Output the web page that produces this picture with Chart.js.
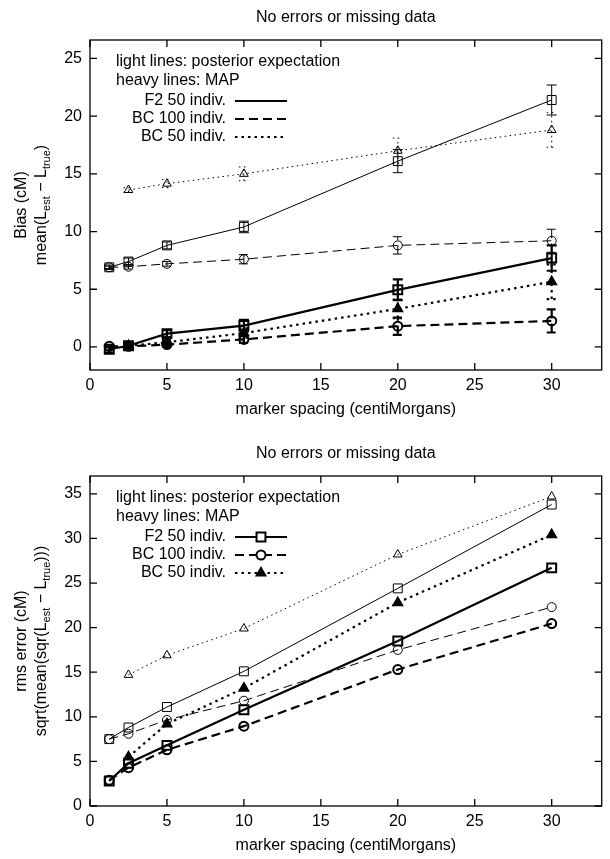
<!DOCTYPE html>
<html>
<head>
<meta charset="utf-8">
<script src="https://cdn.jsdelivr.net/npm/chart.js@4"></script>
<style>
body { margin: 0; background: #fff; }
canvas { display: block; }
</style>
</head>
<body>
<canvas id="biasChart" width="610" height="436"></canvas>
<canvas id="rmsChart" width="610" height="423"></canvas>
<script>
// marker spacing in cM
const spacing = [1.25, 2.5, 5, 10, 20, 30];
const spacingBC50 = [2.5, 5, 10, 20, 30];
const xTicks = [0, 5, 10, 15, 20, 25, 30];

// bias, posterior expectation (light lines) + std errors
const biasF2Mean = [6.9, 7.4, 8.8, 10.4, 16.1, 21.4];
const biasF2MeanErr = [0.2, 0.3, 0.3, 0.5, 1.0, 1.3];
const biasBC100Mean = [6.9, 6.95, 7.2, 7.6, 8.8, 9.2];
const biasBC100MeanErr = [0.1, 0.2, 0.2, 0.4, 0.75, 1.0];
const biasBC50Mean = [13.6, 14.15, 15.0, 17.0, 18.8];
const biasBC50MeanErr = [0.2, 0.35, 0.6, 1.1, 1.5];

// bias, MAP (heavy lines)
const biasF2Map = [-0.2, 0.1, 1.15, 1.85, 4.95, 7.7];
const biasF2MapErr = [0.3, 0.2, 0.3, 0.5, 0.9, 1.1];
const biasBC100Map = [0.05, 0.05, 0.2, 0.65, 1.8, 2.25];
const biasBC100MapErr = [0.1, 0.1, 0.2, 0.3, 0.75, 1.0];
const biasBC50Map = [0.1, 0.4, 1.2, 3.3, 5.65];
const biasBC50MapErr = [0.1, 0.2, 0.4, 0.8, 1.5];
const biasTicks = [0, 5, 10, 15, 20, 25];

// rms error
const rmsF2Mean = [7.5, 8.8, 11.1, 15.1, 24.4, 33.8];
const rmsBC100Mean = [7.5, 8.1, 9.65, 11.8, 17.5, 22.3];
const rmsBC50Mean = [14.7, 16.9, 19.9, 28.2, 34.7];
const rmsF2Map = [2.8, 4.8, 6.8, 10.8, 18.5, 26.7];
const rmsBC100Map = [2.9, 4.3, 6.3, 8.95, 15.3, 20.45];
const rmsBC50Map = [5.5, 9.2, 13.2, 22.8, 30.4];
const rmsTicks = [0, 5, 10, 15, 20, 25, 30, 35];

const legendLabels = ['F2 50 indiv.', 'BC 100 indiv.', 'BC 50 indiv.'];

const FONT = '"Liberation Sans", Arial, sans-serif';

// line / point look of each cross
const kinds = {
    F2: { point: 'rect', radius: 6.3, dashLight: [], dashHeavy: [] },
    BC100: { point: 'circle', radius: 4.5, dashLight: [9, 5], dashHeavy: [9, 5] },
    BC50: { point: 'triangle', radius: 5, dashLight: [1.5, 3.5], dashHeavy: [2.5, 4] }
};

function series(xs, ys, kind, heavy, errs) {
    const st = kinds[kind];
    return {
        data: xs.map((x, i) => ({ x: x, y: ys[i] })),
        showLine: true,
        tension: 0,
        borderColor: '#000',
        borderWidth: heavy ? 2.2 : 1,
        borderDash: heavy ? st.dashHeavy : st.dashLight,
        pointStyle: st.point,
        pointRadius: st.radius,
        pointBorderWidth: heavy ? 2 : 1,
        pointBorderColor: '#000',
        pointBackgroundColor: (heavy && st.point === 'triangle') ? '#000' : 'rgba(0,0,0,0)',
        errors: errs || null
    };
}

// text with subscripts, optionally rotated
function drawRich(ctx, parts, cx, cy, rotate) {
    ctx.save();
    ctx.translate(cx, cy);
    if (rotate) ctx.rotate(-Math.PI / 2);
    let total = 0;
    parts.forEach(p => {
        ctx.font = (p[1] ? '11px ' : '16px ') + FONT;
        total += ctx.measureText(p[0]).width;
    });
    let x = -total / 2;
    ctx.textBaseline = 'middle';
    ctx.textAlign = 'left';
    ctx.fillStyle = '#000';
    parts.forEach(p => {
        ctx.font = (p[1] ? '11px ' : '16px ') + FONT;
        ctx.fillText(p[0], x, p[1] ? 5 : 0);
        x += ctx.measureText(p[0]).width;
    });
    ctx.restore();
}

function framePlugin(info) {
    return {
        id: 'frame',
        afterDatasetsDraw(chart) {
            const ctx = chart.ctx;
            const xs = chart.scales.x, ys = chart.scales.y;
            chart.data.datasets.forEach(ds => {
                if (!ds.errors) return;
                ctx.save();
                ctx.strokeStyle = '#000';
                ctx.lineWidth = ds.borderWidth;
                ctx.setLineDash(ds.borderDash);
                ds.data.forEach((p, i) => {
                    const e = ds.errors[i];
                    const px = xs.getPixelForValue(p.x);
                    const y1 = ys.getPixelForValue(p.y - e);
                    const y2 = ys.getPixelForValue(p.y + e);
                    ctx.beginPath();
                    ctx.moveTo(px, y1); ctx.lineTo(px, y2);
                    ctx.moveTo(px - 5, y1); ctx.lineTo(px + 5, y1);
                    ctx.moveTo(px - 5, y2); ctx.lineTo(px + 5, y2);
                    ctx.stroke();
                });
                ctx.restore();
            });
        },
        afterDraw(chart) {
            const ctx = chart.ctx;
            const a = chart.chartArea;
            const xs = chart.scales.x, ys = chart.scales.y;
            ctx.save();
            ctx.strokeStyle = '#000';
            ctx.lineWidth = 1.3;
            ctx.strokeRect(a.left, a.top, a.right - a.left, a.bottom - a.top);
            ctx.beginPath();
            xTicks.forEach(v => {
                const px = xs.getPixelForValue(v);
                ctx.moveTo(px, a.bottom); ctx.lineTo(px, a.bottom - 7);
                ctx.moveTo(px, a.top); ctx.lineTo(px, a.top + 7);
            });
            info.yTicks.forEach(v => {
                const py = ys.getPixelForValue(v);
                ctx.moveTo(a.left, py); ctx.lineTo(a.left + 7, py);
                ctx.moveTo(a.right, py); ctx.lineTo(a.right - 7, py);
            });
            ctx.stroke();

            ctx.fillStyle = '#000';
            ctx.font = '16px ' + FONT;
            ctx.textAlign = 'center';
            ctx.textBaseline = 'middle';
            const cx = (a.left + a.right) / 2;
            ctx.fillText('No errors or missing data', cx, 18);
            ctx.fillText('marker spacing (centiMorgans)', cx, a.bottom + 40);
            const cy = (a.top + a.bottom) / 2;
            drawRich(ctx, [[info.yTitle, false]], 22, cy, true);
            drawRich(ctx, info.yTitle2, 42, cy, true);

            // legend
            ctx.font = '16px ' + FONT;
            ctx.textAlign = 'left';
            ctx.fillText('light lines: posterior expectation', 116, a.top + 22);
            ctx.fillText('heavy lines: MAP', 116, a.top + 41);
            ctx.textAlign = 'right';
            const names = ['F2', 'BC100', 'BC50'];
            names.forEach((k, i) => {
                const y = a.top + 61 + i * 18;
                ctx.font = '16px ' + FONT;
                ctx.fillText(legendLabels[i], 226, y);
                const st = kinds[k];
                ctx.save();
                ctx.lineWidth = 2.2;
                ctx.setLineDash(st.dashHeavy);
                ctx.beginPath();
                ctx.moveTo(235, y); ctx.lineTo(287, y);
                ctx.stroke();
                ctx.restore();
                if (info.legendPoints) {
                    ctx.save();
                    ctx.lineWidth = 2;
                    ctx.fillStyle = st.point === 'triangle' ? '#000' : '#fff';
                    Chart.helpers.drawPoint(ctx, { pointStyle: st.point, radius: st.radius, borderWidth: 2 }, 261, y);
                    ctx.restore();
                }
            });
            ctx.restore();
        }
    };
}

function makeChart(id, datasets, yMin, yMax, info) {
    const canvas = document.getElementById(id);
    const H = canvas.height;
    return new Chart(canvas, {
        type: 'scatter',
        data: { datasets: datasets },
        options: {
            responsive: false,
            animation: false,
            layout: { padding: { top: 40, right: 1, left: 0, bottom: 0 } },
            plugins: { legend: { display: false }, tooltip: { enabled: false } },
            scales: {
                x: {
                    type: 'linear', min: 0, max: 33.25,
                    grid: { display: false, drawTicks: false },
                    border: { display: false },
                    afterBuildTicks: s => { s.ticks = xTicks.map(v => ({ value: v })); },
                    afterFit: s => { s.height = H - 370; },
                    ticks: { color: '#000', font: { family: FONT, size: 16 }, padding: 6, maxRotation: 0, autoSkip: false }
                },
                y: {
                    type: 'linear', min: yMin, max: yMax,
                    grid: { display: false, drawTicks: false },
                    border: { display: false },
                    afterBuildTicks: s => { s.ticks = info.yTicks.map(v => ({ value: v })); },
                    afterFit: s => { s.width = 90; },
                    ticks: { color: '#000', font: { family: FONT, size: 16 }, padding: 8, autoSkip: false }
                }
            }
        },
        plugins: [framePlugin(info)]
    });
}

makeChart('biasChart', [
    series(spacing, biasF2Mean, 'F2', false, biasF2MeanErr),
    series(spacing, biasBC100Mean, 'BC100', false, biasBC100MeanErr),
    series(spacingBC50, biasBC50Mean, 'BC50', false, biasBC50MeanErr),
    series(spacing, biasF2Map, 'F2', true, biasF2MapErr),
    series(spacing, biasBC100Map, 'BC100', true, biasBC100MapErr),
    series(spacingBC50, biasBC50Map, 'BC50', true, biasBC50MapErr)
], -2, 26.6, {
    yTicks: biasTicks,
    yTitle: 'Bias (cM)',
    yTitle2: [['mean(L', false], ['est', true], [' \u2212 L', false], ['true', true], [')', false]],
    legendPoints: false
});

makeChart('rmsChart', [
    series(spacing, rmsF2Mean, 'F2', false),
    series(spacing, rmsBC100Mean, 'BC100', false),
    series(spacingBC50, rmsBC50Mean, 'BC50', false),
    series(spacing, rmsF2Map, 'F2', true),
    series(spacing, rmsBC100Map, 'BC100', true),
    series(spacingBC50, rmsBC50Map, 'BC50', true)
], 0, 37, {
    yTicks: rmsTicks,
    yTitle: 'rms error (cM)',
    yTitle2: [['sqrt(mean(sqr(L', false], ['est', true], [' \u2212 L', false], ['true', true], [')))', false]],
    legendPoints: true
});
</script>
</body>
</html>
